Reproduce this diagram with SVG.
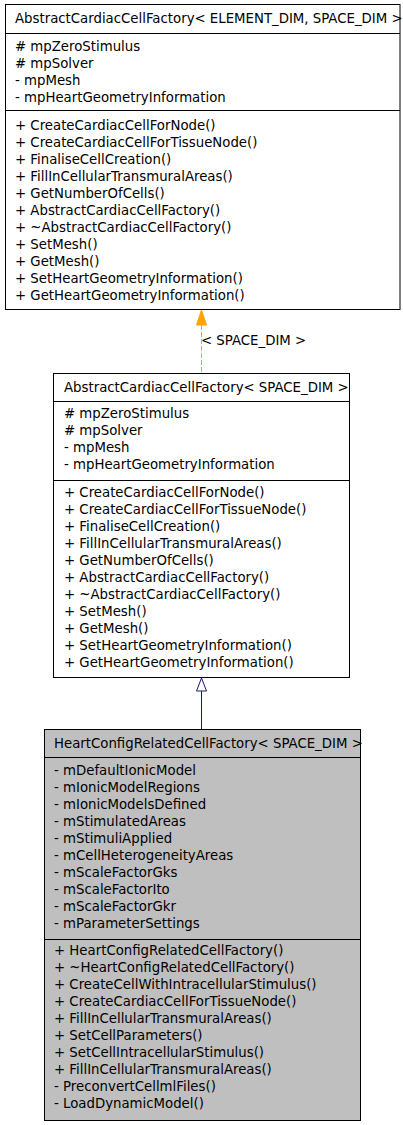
<svg xmlns="http://www.w3.org/2000/svg" width="403" height="1125" viewBox="0 0 403 1125">
<style>
.box{fill:#ffffff;stroke:#000000;stroke-width:1}
.gray{fill:#bfbfbf}
.sep{stroke:#000000;stroke-width:1}
text{font-family:"DejaVu Sans",sans-serif;font-size:13.3px;fill:#000000}
</style>
<rect width="403" height="1125" fill="#ffffff"/>
<g id="connectors">
<line x1="201.5" y1="325" x2="201.5" y2="373.5" stroke="#ffa500" stroke-width="1" stroke-dasharray="5,2"/>
<polygon points="201.5,310 196.5,325 206.5,325" fill="#ffa500" stroke="#ffa500"/>
<text x="201" y="345">&lt; SPACE_DIM &gt;</text>
<line x1="201.5" y1="691" x2="201.5" y2="729.5" stroke="#191970" stroke-width="1"/>
<polygon points="201.5,678 196.5,691 206.5,691" fill="#ffffff" stroke="#191970"/>
</g>
<g id="node1">
<rect class="box" x="5.5" y="4.5" width="394.5" height="305"/>
<line class="sep" x1="5.5" y1="33.5" x2="400" y2="33.5"/>
<line class="sep" x1="5.5" y1="110.5" x2="400" y2="110.5"/>
<text x="15" y="23">AbstractCardiacCellFactory&lt; ELEMENT_DIM, SPACE_DIM &gt;</text>
<text x="15" y="51"># mpZeroStimulus</text>
<text x="15" y="68"># mpSolver</text>
<text x="15" y="85">- mpMesh</text>
<text x="15" y="102">- mpHeartGeometryInformation</text>
<text x="15" y="130">+ CreateCardiacCellForNode()</text>
<text x="15" y="147">+ CreateCardiacCellForTissueNode()</text>
<text x="15" y="164">+ FinaliseCellCreation()</text>
<text x="15" y="181">+ FillInCellularTransmuralAreas()</text>
<text x="15" y="198">+ GetNumberOfCells()</text>
<text x="15" y="215">+ AbstractCardiacCellFactory()</text>
<text x="15" y="232">+ ~AbstractCardiacCellFactory()</text>
<text x="15" y="249">+ SetMesh()</text>
<text x="15" y="266">+ GetMesh()</text>
<text x="15" y="283">+ SetHeartGeometryInformation()</text>
<text x="15" y="300">+ GetHeartGeometryInformation()</text>
</g>
<g id="node2">
<rect class="box" x="53.5" y="373.5" width="296" height="304"/>
<line class="sep" x1="53.5" y1="401.5" x2="349.5" y2="401.5"/>
<line class="sep" x1="53.5" y1="480.5" x2="349.5" y2="480.5"/>
<text x="64" y="392">AbstractCardiacCellFactory&lt; SPACE_DIM &gt;</text>
<text x="64" y="418"># mpZeroStimulus</text>
<text x="64" y="435"># mpSolver</text>
<text x="64" y="452">- mpMesh</text>
<text x="64" y="469">- mpHeartGeometryInformation</text>
<text x="64" y="497">+ CreateCardiacCellForNode()</text>
<text x="64" y="514">+ CreateCardiacCellForTissueNode()</text>
<text x="64" y="531">+ FinaliseCellCreation()</text>
<text x="64" y="548">+ FillInCellularTransmuralAreas()</text>
<text x="64" y="565">+ GetNumberOfCells()</text>
<text x="64" y="582">+ AbstractCardiacCellFactory()</text>
<text x="64" y="599">+ ~AbstractCardiacCellFactory()</text>
<text x="64" y="616">+ SetMesh()</text>
<text x="64" y="633">+ GetMesh()</text>
<text x="64" y="650">+ SetHeartGeometryInformation()</text>
<text x="64" y="667">+ GetHeartGeometryInformation()</text>
</g>
<g id="node3">
<rect class="box gray" x="44.5" y="729.5" width="316" height="391"/>
<line class="sep" x1="44.5" y1="757.5" x2="360.5" y2="757.5"/>
<line class="sep" x1="44.5" y1="939.5" x2="360.5" y2="939.5"/>
<text x="54" y="748">HeartConfigRelatedCellFactory&lt; SPACE_DIM &gt;</text>
<text x="54" y="775">- mDefaultIonicModel</text>
<text x="54" y="792">- mIonicModelRegions</text>
<text x="54" y="809">- mIonicModelsDefined</text>
<text x="54" y="826">- mStimulatedAreas</text>
<text x="54" y="843">- mStimuliApplied</text>
<text x="54" y="860">- mCellHeterogeneityAreas</text>
<text x="54" y="877">- mScaleFactorGks</text>
<text x="54" y="894">- mScaleFactorIto</text>
<text x="54" y="911">- mScaleFactorGkr</text>
<text x="54" y="928">- mParameterSettings</text>
<text x="54" y="955">+ HeartConfigRelatedCellFactory()</text>
<text x="54" y="972">+ ~HeartConfigRelatedCellFactory()</text>
<text x="54" y="989">+ CreateCellWithIntracellularStimulus()</text>
<text x="54" y="1006">+ CreateCardiacCellForTissueNode()</text>
<text x="54" y="1023">+ FillInCellularTransmuralAreas()</text>
<text x="54" y="1040">+ SetCellParameters()</text>
<text x="54" y="1057">+ SetCellIntracellularStimulus()</text>
<text x="54" y="1074">+ FillInCellularTransmuralAreas()</text>
<text x="54" y="1091">- PreconvertCellmlFiles()</text>
<text x="54" y="1108">- LoadDynamicModel()</text>
</g>
</svg>
